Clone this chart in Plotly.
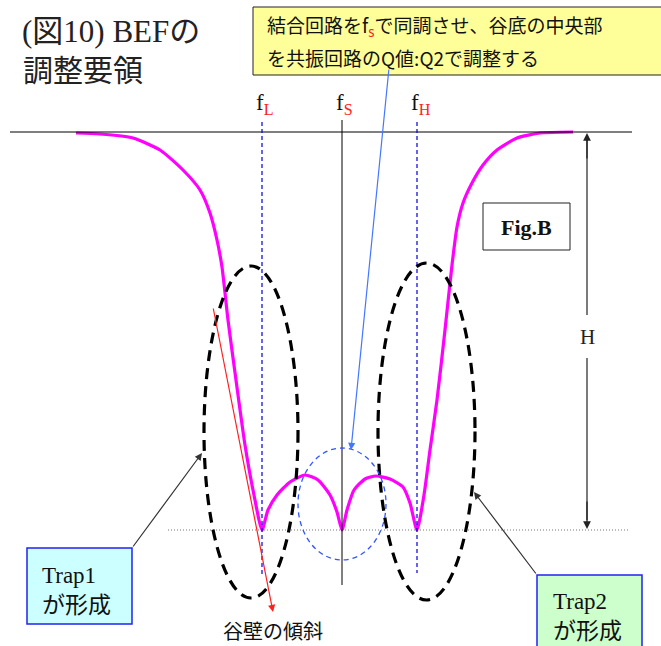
import plotly.graph_objects as go

# ---- data (pixel-space coordinates) ----
curve_x = [76, 100, 133, 160, 183, 200, 210, 217, 222, 228, 236, 245, 254, 262,
           268, 277, 290, 305, 318, 330, 337, 342,
           347, 354, 365, 376, 390, 403, 410, 417,
           424, 430, 437, 445, 452, 457, 463, 472, 483, 497, 517, 540, 573]
curve_y = [133, 134, 138, 150, 170, 190, 213, 240, 267, 320, 380, 445, 495, 530,
           510, 495, 482, 475, 480, 495, 512, 530,
           510, 490, 479, 476, 479, 487, 503, 530,
           495, 450, 400, 330, 265, 227, 203, 183, 165, 150, 138, 133, 132]

freq_labels = ["L", "S", "H"]
freq_x = [262, 342, 417]

title_lines = ["(図10) BEFの", "調整要領"]
note_lines = ["結合回路をf<sub><span style='color:#ff2020'>s</span></sub>で同調させ、谷底の中央部",
              "を共振回路のQ値:Q2で調整する"]
trap_labels = ["Trap1<br>が形成", "Trap2<br>が形成"]
slope_label = "谷壁の傾斜"
height_label = "H"
fig_label = "Fig.B"

W, H = 661, 646
SERIF = "Liberation Serif, Noto Sans CJK JP, serif"
SANS = "Noto Sans CJK JP, sans-serif"

fig = go.Figure()

shapes = []
shapes.append(dict(type="line", x0=10, x1=632, y0=132, y1=132, line=dict(color="black", width=1)))
shapes.append(dict(type="line", x0=168, x1=630, y0=530, y1=530, line=dict(color="#777777", width=1, dash="1px,2px")))
shapes.append(dict(type="line", x0=freq_x[0], x1=freq_x[0], y0=122, y1=576, line=dict(color="#0000dd", width=1.2, dash="4px,3px")))
shapes.append(dict(type="line", x0=freq_x[1], x1=freq_x[1], y0=120, y1=585, line=dict(color="black", width=1)))
shapes.append(dict(type="line", x0=freq_x[2], x1=freq_x[2], y0=122, y1=573, line=dict(color="#0000dd", width=1.2, dash="4px,3px")))
shapes.append(dict(type="circle", x0=204, x1=298, y0=266, y1=598, line=dict(color="black", width=3.2, dash="11px,7px")))
shapes.append(dict(type="circle", x0=378, x1=475, y0=263, y1=600, line=dict(color="black", width=3.2, dash="11px,7px")))
shapes.append(dict(type="circle", x0=298, x1=386, y0=448, y1=560, line=dict(color="#3355ff", width=1.3, dash="5px,4px")))
shapes.append(dict(type="line", x0=587, x1=587, y0=140, y1=315, line=dict(color="#333333", width=1.3)))
shapes.append(dict(type="line", x0=587, x1=587, y0=358, y1=520, line=dict(color="#333333", width=1.3)))
shapes.append(dict(type="rect", x0=253, x1=663, y0=7, y1=75, fillcolor="#ffff99", line=dict(color="#222222", width=1), layer="below"))
shapes.append(dict(type="rect", x0=483, x1=570, y0=203, y1=250, fillcolor="white", line=dict(color="#222222", width=1)))
shapes.append(dict(type="rect", x0=27, x1=132, y0=548, y1=624, fillcolor="#ccffff", line=dict(color="#2222ee", width=1.5)))
shapes.append(dict(type="rect", x0=537, x1=642, y0=575, y1=660, fillcolor="#ccffcc", line=dict(color="#2222ee", width=1.5)))

fig.add_trace(go.Scatter(x=curve_x, y=curve_y, mode="lines",
                         line=dict(color="#ff00ff", width=3.2, shape="spline", smoothing=0.6),
                         hoverinfo="skip", showlegend=False))

ann = []
ann.append(dict(x=20, y=31, text=title_lines[0], showarrow=False, xanchor="left", yanchor="middle",
                font=dict(family=SERIF, size=31, color="#222222")))
ann.append(dict(x=21, y=68, text=title_lines[1], showarrow=False, xanchor="left", yanchor="middle",
                font=dict(family=SANS, size=30, color="#222222")))
ann.append(dict(x=265, y=26, text=note_lines[0], showarrow=False, xanchor="left", yanchor="middle",
                font=dict(family=SANS, size=19, color="#111111")))
ann.append(dict(x=265, y=57, text=note_lines[1], showarrow=False, xanchor="left", yanchor="middle",
                font=dict(family=SANS, size=19, color="#111111")))
for lab, fx in zip(freq_labels, freq_x):
    ann.append(dict(x=fx - 8, y=104, text=f"f<sub><span style='color:#ff2020'>{lab}</span></sub>",
                    showarrow=False, xanchor="left", yanchor="middle",
                    font=dict(family=SERIF, size=23, color="#111111")))
ann.append(dict(x=587, y=337, text=height_label, showarrow=False, xanchor="center", yanchor="middle",
                font=dict(family=SERIF, size=21, color="#222222")))
ann.append(dict(x=587, y=133, ax=587, ay=160, xref="x", yref="y", axref="x", ayref="y", text="",
                showarrow=True, arrowhead=2, arrowsize=1.2, arrowwidth=1.3, arrowcolor="#222222"))
ann.append(dict(x=587, y=529, ax=587, ay=500, xref="x", yref="y", axref="x", ayref="y", text="",
                showarrow=True, arrowhead=2, arrowsize=1.2, arrowwidth=1.3, arrowcolor="#222222"))
ann.append(dict(x=526, y=227, text="<b>" + fig_label + "</b>", showarrow=False, xanchor="center", yanchor="middle",
                font=dict(family=SERIF, size=22, color="#111111")))
ann.append(dict(x=351, y=450, ax=389, ay=68, xref="x", yref="y", axref="x", ayref="y", text="",
                showarrow=True, arrowhead=2, arrowsize=1.2, arrowwidth=1.2, arrowcolor="#4477ff"))
ann.append(dict(x=273, y=612, ax=213, ay=307, xref="x", yref="y", axref="x", ayref="y", text="",
                showarrow=True, arrowhead=2, arrowsize=1.2, arrowwidth=1.2, arrowcolor="#ff2020"))
ann.append(dict(x=273, y=630, text=slope_label, showarrow=False, xanchor="center", yanchor="middle",
                font=dict(family=SANS, size=20, color="#111111")))
ann.append(dict(x=40, y=590, text=trap_labels[0], showarrow=False, xanchor="left", yanchor="middle", align="left",
                font=dict(family=SERIF, size=23, color="#111111")))
ann.append(dict(x=551, y=616, text=trap_labels[1], showarrow=False, xanchor="left", yanchor="middle", align="left",
                font=dict(family=SERIF, size=23, color="#111111")))
ann.append(dict(x=202, y=453, ax=132, ay=548, xref="x", yref="y", axref="x", ayref="y", text="",
                showarrow=True, arrowhead=2, arrowsize=1.2, arrowwidth=1.2, arrowcolor="#333333"))
ann.append(dict(x=474, y=492, ax=537, ay=575, xref="x", yref="y", axref="x", ayref="y", text="",
                showarrow=True, arrowhead=2, arrowsize=1.2, arrowwidth=1.2, arrowcolor="#333333"))

fig.update_layout(
    width=W, height=H, margin=dict(l=0, r=0, t=0, b=0),
    paper_bgcolor="white", plot_bgcolor="white",
    xaxis=dict(range=[0, W], visible=False, fixedrange=True),
    yaxis=dict(range=[H, 0], visible=False, fixedrange=True),
    shapes=shapes, annotations=ann, showlegend=False,
)

fig.write_html("out.html", config={"displayModeBar": False},
               post_script="document.body.style.margin='0';document.body.style.overflow='hidden';")
